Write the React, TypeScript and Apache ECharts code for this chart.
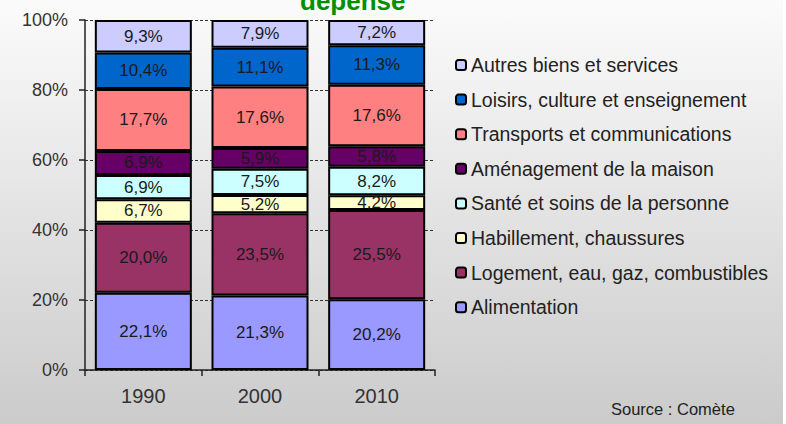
import React, { useEffect, useRef } from "react";
import * as echarts from "echarts";

const years = ["1990", "2000", "2010"];
const seriesNames = [
  "Alimentation",
  "Logement, eau, gaz, combustibles",
  "Habillement, chaussures",
  "Santé et soins de la personne",
  "Aménagement de la maison",
  "Transports et communications",
  "Loisirs, culture et enseignement",
  "Autres biens et services",
];
const alimentation = [22.1, 21.3, 20.2];
const logement = [20.0, 23.5, 25.5];
const habillement = [6.7, 5.2, 4.2];
const sante = [6.9, 7.5, 8.2];
const amenagement = [6.9, 5.9, 5.8];
const transports = [17.7, 17.6, 17.6];
const loisirs = [10.4, 11.1, 11.3];
const autres = [9.3, 7.9, 7.2];
const seriesValues = [alimentation, logement, habillement, sante, amenagement, transports, loisirs, autres];
const seriesColors = ["#9999FF", "#993366", "#FFFFCC", "#CCFFFF", "#660066", "#FF8080", "#0066CC", "#CCCCFF"];
const yTicks = [0, 20, 40, 60, 80, 100];

const FONT = "'Liberation Sans', Arial, sans-serif";

export default function App() {
  const ref = useRef<HTMLDivElement>(null);
  useEffect(() => {
    if (!ref.current) return;
    const chart = echarts.init(ref.current, undefined, { renderer: "svg" });
    chart.setOption({
      animation: false,
      backgroundColor: new echarts.graphic.LinearGradient(0, 0, 0, 1, [
        { offset: 0, color: "#fbfbfb" },
        { offset: 1, color: "#cbcbcb" },
      ]),
      textStyle: { fontFamily: FONT },
      grid: { left: 85, right: 351, top: 20, bottom: 54 },
      xAxis: {
        type: "category",
        data: years,
        axisLine: { lineStyle: { color: "#222", width: 1.5 } },
        axisTick: { show: true, length: 6, lineStyle: { color: "#222", width: 1.5 } },
        axisLabel: { color: "#333", fontSize: 20, margin: 16, fontFamily: FONT },
      },
      yAxis: {
        type: "value",
        min: yTicks[0],
        max: yTicks[yTicks.length - 1],
        interval: 20,
        axisLine: { show: true, lineStyle: { color: "#222", width: 1.5 } },
        axisTick: { show: true, length: 6, lineStyle: { color: "#222", width: 1.5 } },
        axisLabel: { color: "#333", fontSize: 18, margin: 17, formatter: "{value}%", fontFamily: FONT },
        splitLine: { show: true, lineStyle: { color: "#333", type: [3, 2], width: 1 } },
      },
      legend: {
        orient: "vertical",
        left: 450,
        top: 50,
        itemWidth: 10,
        itemHeight: 10,
        itemGap: 14.6,
        itemStyle: { borderColor: "#000", borderWidth: 2 },
        textStyle: { fontSize: 19.5, color: "#222", lineHeight: 20, fontFamily: FONT },
        data: [...seriesNames].reverse(),
        selectedMode: false,
      },
      series: seriesNames.map((name, i) => ({
        name,
        type: "bar",
        stack: "total",
        barWidth: 97,
        data: seriesValues[i],
        itemStyle: { color: seriesColors[i], borderColor: "#000", borderWidth: 2 },
        label: {
          show: true,
          position: "inside",
          color: "#1a1a1a",
          fontSize: 17,
          fontFamily: FONT,
          formatter: (p: any) => p.value.toFixed(1).replace(".", ",") + "%",
        },
      })),
      graphic: [
        {
          type: "text",
          left: 300,
          top: -12,
          style: { text: "dépense", fill: "#009000", font: `bold 26px ${FONT}` },
        },
        {
          type: "text",
          left: 611,
          top: 400,
          style: { text: "Source : Comète", fill: "#222", font: `16.5px ${FONT}` },
        },
        {
          type: "rect",
          right: 0,
          top: 0,
          shape: { width: 3, height: 424 },
          style: { fill: "#ffffff" },
        },
      ],
    });
    return () => chart.dispose();
  }, []);
  return <div ref={ref} style={{ width: 786, height: 424, position: "absolute", left: 0, top: 0 }} />;
}
